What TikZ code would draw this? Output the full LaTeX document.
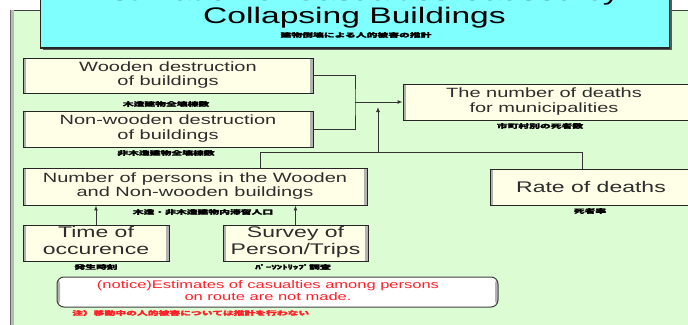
\documentclass[tikz,border=0pt]{standalone}
\usepackage{fontspec}
\usepackage{graphicx}
\setmainfont{Liberation Sans}
\newfontfamily\cjk[FakeBold=2]{Noto Sans CJK JP}
\usetikzlibrary{arrows.meta}
\definecolor{panelgreen}{RGB}{220,252,212}
\definecolor{titlecyan}{RGB}{128,255,255}
\definecolor{boxcream}{RGB}{255,255,232}
\definecolor{noticered}{RGB}{255,32,40}
\definecolor{txtgray}{RGB}{45,45,45}
\newcommand{\vsq}[1]{\scalebox{1}[0.67]{#1}}
\newcommand{\jp}[1]{\scalebox{1}[0.55]{\cjk\bfseries\fontsize{10.8}{12}\selectfont #1}}
\begin{document}
\begin{tikzpicture}[x=1pt,y=-1pt,
  sidebands/.style={path picture={
      \fill[gray!60] (path picture bounding box.south west) rectangle ([xshift=3pt]path picture bounding box.north west);
      \fill[gray!60] (path picture bounding box.south east) rectangle ([xshift=-3pt]path picture bounding box.north east);}},
  box/.style={draw=black!85, line width=0.9pt, fill=boxcream, inner sep=0pt, text=txtgray, sidebands,
    font=\fontsize{20}{22}\selectfont},
  bigbox/.style={box, font=\fontsize{23}{25}\selectfont},
  conn/.style={draw=black!80, line width=1pt},
  arr/.style={conn, -{Latex[length=5pt,width=4pt]}},
  jplab/.style={inner sep=0pt, text=black},
  titletext/.style={inner sep=0pt, text=black, font=\fontsize{33.6}{36}\selectfont},
  notice/.style={draw=black!75, line width=1pt, fill=white, rounded corners=7pt, inner sep=0pt,
    text=noticered, sidebands, font=\fontsize{16.5}{17.6}\selectfont}
]
\useasboundingbox (0,0) rectangle (688,324);
\clip (0,0) rectangle (688,324);
% background and panel
\fill[white] (0,0) rectangle (688,324);
\fill[panelgreen] (10,10) rectangle (700,340);
\draw[black!75, line width=0.8pt] (10,10) -- (700,10);
\fill[gray!55] (10,10) rectangle (14,340);
\draw[black!60, line width=0.6pt] (10,10) -- (10,340);
% title box
\fill[black!65] (43,-20) rectangle (672,49.5);
\fill[titlecyan, draw=black!85, line width=0.9pt] (40,-20) rectangle (669,48);
\draw[black!85, line width=1.6pt] (40,48) -- (669,48);
\node[titletext] (title1) at (354.5,-5.5) {\vsq{Estimation of Casualties Caused by}};
\node[titletext] (title2) at (354.5,17.5) {\vsq{Collapsing Buildings}};
\node[jplab] (titlejp) at (356,35) {\jp{建物倒壊による人的被害の推計}};
% boxes
\node[box, minimum width=290pt, minimum height=35pt] (W) at (168,75.5)
  {\vsq{\begin{tabular}{@{}c@{}}Wooden destruction\\of buildings\end{tabular}}};
\node[box, minimum width=290pt, minimum height=36pt] (N) at (168,129)
  {\vsq{\begin{tabular}{@{}c@{}}Non-wooden destruction\\of buildings\end{tabular}}};
\node[box, minimum width=300pt, minimum height=36pt] (D) at (553,102)
  {\vsq{\begin{tabular}{@{}c@{}}The number of deaths\\for municipalities\end{tabular}}\hspace*{18pt}};
\node[box, minimum width=344pt, minimum height=37pt] (P) at (195,186.5)
  {\vsq{\begin{tabular}{@{}c@{}}Number of persons in the Wooden\\and Non-wooden buildings\end{tabular}}};
\node[bigbox, minimum width=210pt, minimum height=36pt] (R) at (595,187)
  {\vsq{Rate of deaths}\hspace*{8pt}};
\node[bigbox, minimum width=146pt, minimum height=36pt] (T) at (96,243)
  {\vsq{\begin{tabular}{@{}c@{}}Time of\\occurence\end{tabular}}};
\node[bigbox, minimum width=145pt, minimum height=36pt] (S) at (295.5,243)
  {\vsq{\begin{tabular}{@{}c@{}}Survey of\\Person/Trips\end{tabular}}};
% japanese labels
\node[jplab] (Wj) at (166,104) {\jp{木造建物全壊棟数}};
\node[jplab] (Nj) at (166,153) {\jp{非木造建物全壊棟数}};
\node[jplab] (Dj) at (540,126) {\jp{市町村別の死者数}};
\node[jplab] (Pj) at (203,212) {\jp{木造・非木造建物内滞留人口}};
\node[jplab] (Rj) at (590,211) {\jp{死者率}};
\node[jplab] (Tj) at (96,267) {\jp{発生時刻}};
\node[jplab] (Sj) at (293,267) {\jp{ﾊﾟｰｿﾝﾄﾘｯﾌﾟ調査}};
% notice
\node[notice, minimum width=441pt, minimum height=30pt] (Nt) at (277.5,292)
  {\vsq{\begin{tabular}{@{}c@{}}(notice)Estimates of casualties among persons\\on route are not made.\end{tabular}}\hspace*{19pt}};
\node[jplab, anchor=west, text=noticered] (Ntj) at (72,313) {\jp{注）移動中の人的被害については推計を行わない}};
% connectors
\coordinate (jx) at (355,102);
\draw[conn] (W.east) -| (jx) |- (N.east);
\draw[arr] (jx) -- (jx -| D.west);
\coordinate (hb) at (378,152);
\coordinate (ha) at (378,107);
\coordinate (pl) at (260,152);
\coordinate (pr) at (582,152);
\draw[arr] (hb) -- (ha);
\draw[conn] (pl |- P.north) -- (pl) -- (pr) -- (pr |- R.north);
\draw[arr] (T.north) -- (T.north |- P.south);
\draw[arr] (S.north) -- (S.north |- P.south);
\end{tikzpicture}
\end{document}
